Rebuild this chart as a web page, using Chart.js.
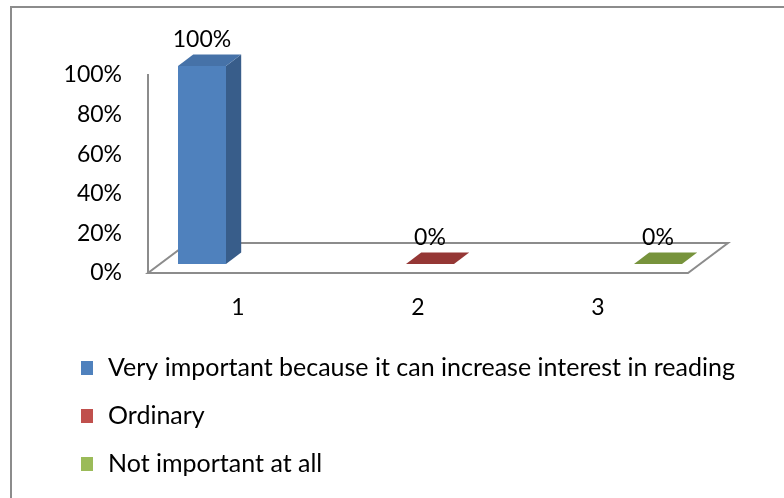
<!DOCTYPE html>
<html>
<head>
<meta charset="utf-8">
<script src="https://cdn.jsdelivr.net/npm/chart.js@4.4.1/dist/chart.umd.min.js"></script>
<style>
  html, body { margin: 0; padding: 0; background: #fff; }
  #wrap { position: relative; width: 784px; height: 498px; overflow: hidden; }
  #frame { position: absolute; left: 10px; top: 6px; width: 800px; height: 520px;
           border-left: 2px solid #8c8c8c; border-top: 2px solid #8c8c8c; }
  canvas { position: absolute; left: 0; top: 0; }
</style>
</head>
<body>
<div id="wrap">
  <div id="frame"></div>
  <canvas id="chart" width="784" height="498"></canvas>
</div>
<script>
// Chart data
const categories = ['1', '2', '3'];
const seriesNames = [
    'Very important because it can increase interest in reading',
    'Ordinary',
    'Not important at all'
];
const veryImportant = [100, null, null];
const ordinary = [null, 0, null];
const notImportant = [null, null, 0];
const yTickValues = [0, 20, 40, 60, 80, 100];

// colours: front, side, top
const frontColors = ['#4F81BD', '#C0504D', '#9BBB59'];
const sideColors = ['#385D8A', '#8C3836', '#71893F'];
const topColors = ['#4672A8', '#953735', '#77933C'];

const FONT = 'Lato, "Open Sans", sans-serif';
const FLOOR_DX = 40, FLOOR_DY = 30;
const FRONT = 0.3, BACK = 0.68; // depth position of the bars on the floor

function shift(t) {
    return { x: FLOOR_DX * t, y: -FLOOR_DY * t };
}

const box3d = {
    id: 'box3d',
    beforeDatasetsDraw(chart) {
        const { ctx, chartArea: a } = chart;
        ctx.save();
        ctx.strokeStyle = '#8c8c8c';
        ctx.lineWidth = 2;
        ctx.beginPath();
        ctx.moveTo(a.left, a.bottom);
        ctx.lineTo(a.right, a.bottom);
        ctx.lineTo(a.right + FLOOR_DX, a.bottom - FLOOR_DY);
        ctx.lineTo(a.left + FLOOR_DX, a.bottom - FLOOR_DY);
        ctx.closePath();
        ctx.stroke();
        ctx.restore();
        const f = shift(FRONT);
        ctx.save();
        ctx.translate(f.x, f.y);
    },
    afterDatasetsDraw(chart) {
        const { ctx } = chart;
        ctx.restore();
        const f = shift(FRONT), b = shift(BACK);
        chart.data.datasets.forEach((ds, i) => {
            const meta = chart.getDatasetMeta(i);
            meta.data.forEach((bar, j) => {
                if (ds.data[j] === null) return;
                const { x, y, base, width } = bar.getProps(['x', 'y', 'base', 'width'], true);
                const x1 = x - width / 2, x2 = x + width / 2;
                // side face
                ctx.fillStyle = sideColors[i];
                ctx.beginPath();
                ctx.moveTo(x2 + f.x, y + f.y);
                ctx.lineTo(x2 + b.x, y + b.y);
                ctx.lineTo(x2 + b.x, base + b.y);
                ctx.lineTo(x2 + f.x, base + f.y);
                ctx.closePath();
                ctx.fill();
                // top face
                ctx.fillStyle = topColors[i];
                ctx.beginPath();
                ctx.moveTo(x1 + f.x, y + f.y);
                ctx.lineTo(x2 + f.x, y + f.y);
                ctx.lineTo(x2 + b.x, y + b.y);
                ctx.lineTo(x1 + b.x, y + b.y);
                ctx.closePath();
                ctx.fill();
                // value label
                ctx.fillStyle = '#000';
                ctx.font = '23px ' + FONT;
                ctx.textAlign = 'center';
                ctx.textBaseline = 'middle';
                ctx.fillText(ds.data[j] + '%', x + f.x, y + f.y - 26);
            });
        });
    },
    afterDraw(chart) {
        const { ctx } = chart;
        ctx.save();
        ctx.font = '25px ' + FONT;
        ctx.textBaseline = 'middle';
        ctx.textAlign = 'left';
        chart.data.datasets.forEach((ds, i) => {
            const cy = 368 + i * 48;
            ctx.fillStyle = frontColors[i];
            ctx.fillRect(81, cy - 7, 12, 14);
            ctx.fillStyle = '#000';
            ctx.fillText(ds.label, 108, cy);
        });
        ctx.restore();
    }
};

new Chart(document.getElementById('chart'), {
    type: 'bar',
    data: {
        labels: categories,
        datasets: [
            { label: seriesNames[0], data: veryImportant, backgroundColor: frontColors[0] },
            { label: seriesNames[1], data: ordinary, backgroundColor: frontColors[1] },
            { label: seriesNames[2], data: notImportant, backgroundColor: frontColors[2] }
        ].map(d => Object.assign(d, { clip: false, borderWidth: 0 }))
    },
    options: {
        responsive: false,
        animation: false,
        categoryPercentage: 0.8,
        barPercentage: 1.0,
        layout: { padding: { left: 0, right: 96, top: 75, bottom: 0 } },
        scales: {
            x: {
                grid: { display: false },
                border: { display: false },
                ticks: { color: '#000', font: { family: FONT, size: 23 }, padding: 13 },
                afterFit(scale) { scale.height = 225; }
            },
            y: {
                min: 0,
                max: 100,
                grid: { display: false },
                border: { display: true, color: '#8c8c8c', width: 2 },
                afterBuildTicks(scale) { scale.ticks = yTickValues.map(v => ({ value: v })); },
                ticks: {
                    color: '#000',
                    font: { family: FONT, size: 23 },
                    padding: 18,
                    callback: v => v + '%'
                },
                afterFit(scale) { scale.width = 148; }
            }
        },
        plugins: {
            legend: { display: false },
            tooltip: { enabled: false }
        }
    },
    plugins: [box3d]
});
</script>
</body>
</html>
